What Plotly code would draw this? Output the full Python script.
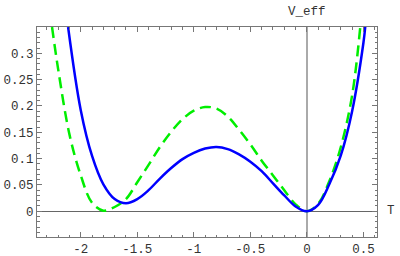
import plotly.graph_objects as go

# Blue solid curve samples (T, V_eff)
blue_T = [-2.112, -2.0, -1.9, -1.8, -1.7, -1.6, -1.5, -1.4, -1.3, -1.2, -1.1, -1.0, -0.9, -0.8,
          -0.7, -0.6, -0.5, -0.4, -0.3, -0.2, -0.1, 0.0, 0.1, 0.2, 0.3, 0.4, 0.5, 0.516]
blue_V = [0.350, 0.192, 0.105, 0.051, 0.023, 0.015, 0.023, 0.040, 0.062, 0.082, 0.099, 0.111,
          0.119, 0.122, 0.118, 0.108, 0.094, 0.076, 0.053, 0.030, 0.009, 0.0, 0.012, 0.052,
          0.106, 0.190, 0.320, 0.350]

# Green dashed curve samples (T, V_eff)
green_T = [-2.254, -2.2, -2.1, -2.0, -1.9, -1.8, -1.7, -1.6, -1.5, -1.4, -1.3, -1.2, -1.1,
           -1.0, -0.9, -0.8, -0.7, -0.6, -0.5, -0.4, -0.3, -0.2, -0.1, 0.0, 0.1, 0.2, 0.3,
           0.4, 0.472]
green_V = [0.350, 0.270, 0.146, 0.068, 0.016, 0.001, 0.008, 0.023, 0.055, 0.088, 0.122, 0.151,
           0.175, 0.191, 0.198, 0.195, 0.180, 0.155, 0.127, 0.096, 0.068, 0.040, 0.013, 0.0,
           0.014, 0.058, 0.122, 0.220, 0.350]

x_ticks = [-2, -1.5, -1, -0.5, 0, 0.5]
x_labels = ["-2", "-1.5", "-1", "-0.5", "0", "0.5"]
y_ticks = [0, 0.05, 0.1, 0.15, 0.2, 0.25, 0.3]
y_labels = ["0", "0.05", "0.1", "0.15", "0.2", "0.25", "0.3"]

fig = go.Figure()
fig.add_trace(go.Scatter(x=green_T, y=green_V, mode="lines", line_shape="spline",
                         line=dict(color="#00ee00", width=2.5, dash="11px,6px", smoothing=1),
                         showlegend=False, hoverinfo="skip"))
fig.add_trace(go.Scatter(x=blue_T, y=blue_V, mode="lines", line_shape="spline",
                         line=dict(color="#0000ff", width=2.5, smoothing=1), showlegend=False,
                         hoverinfo="skip"))

tickfont = dict(family="Liberation Mono", size=12.5, color="#333333")
fig.update_layout(
    template="none",
    width=400, height=256,
    margin=dict(l=37, r=23, t=27, b=19),
    paper_bgcolor="white", plot_bgcolor="white",
    xaxis=dict(range=[-2.387, 0.62], tickvals=x_ticks, ticktext=x_labels, ticks="inside",
               ticklen=5, tickcolor="#777777", showline=True, linecolor="#777777", linewidth=1,
               mirror="ticks", showgrid=False, zeroline=True, zerolinecolor="#aaaaaa",
               zerolinewidth=2, tickfont=tickfont, automargin=False, ticklabelstandoff=0,
               minor=dict(dtick=0.1, tick0=0, ticks="inside", ticklen=2.5, tickcolor="#777777",
                          showgrid=False)),
    yaxis=dict(range=[-0.049, 0.35], tickvals=y_ticks, ticktext=y_labels, ticks="inside",
               ticklen=5, tickcolor="#777777", showline=True, linecolor="#777777", linewidth=1,
               mirror="ticks", showgrid=False, zeroline=True, zerolinecolor="#666666",
               zerolinewidth=1, tickfont=tickfont, automargin=False,
               minor=dict(dtick=0.01, tick0=0, ticks="inside", ticklen=2.5, tickcolor="#777777",
                          showgrid=False)),
    annotations=[
        dict(text="V_eff", x=0, xref="x", y=1, yref="paper", yshift=15, showarrow=False,
             font=dict(family="Liberation Mono", size=12.5, color="#333333"), yanchor="middle"),
        dict(text="T", x=1, xref="paper", xshift=14, y=0, yref="y", showarrow=False,
             font=dict(family="Liberation Mono", size=12.5, color="#333333"), xanchor="center"),
    ],
)
fig.write_html("out.html", config={"displayModeBar": False},
               post_script="document.body.style.margin='0';")
